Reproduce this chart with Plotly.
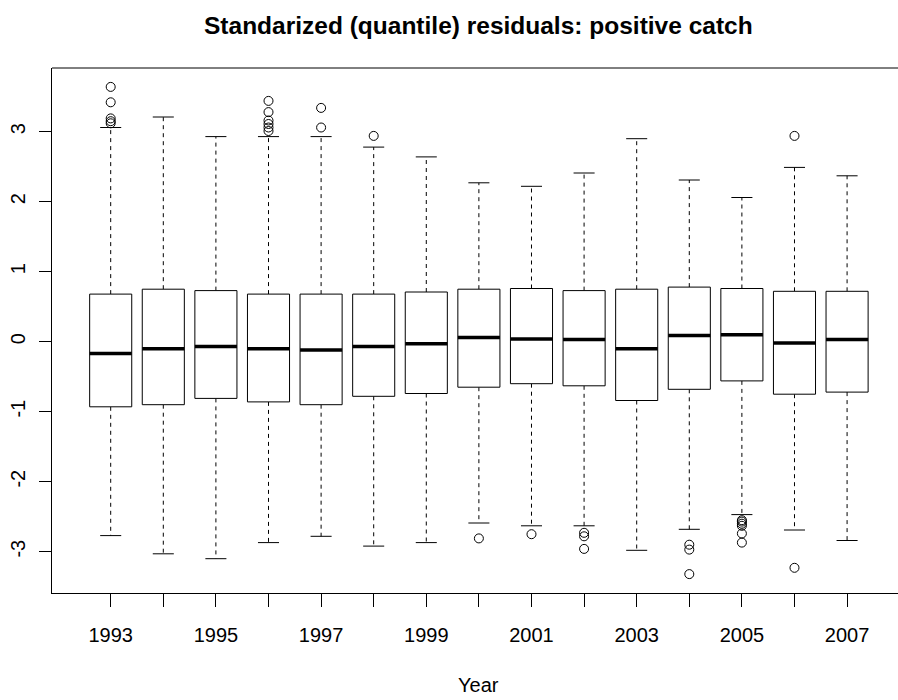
import plotly.graph_objects as go

# ---------------- data ----------------
years = list(range(1993, 2008))
q1 = [-0.93, -0.90, -0.81, -0.86, -0.90, -0.78, -0.74, -0.65, -0.60, -0.63, -0.84, -0.68, -0.56, -0.75, -0.72]
medians = [-0.17, -0.10, -0.07, -0.10, -0.12, -0.07, -0.03, 0.06, 0.04, 0.03, -0.10, 0.09, 0.10, -0.02, 0.03]
q3 = [0.68, 0.75, 0.73, 0.68, 0.68, 0.68, 0.71, 0.75, 0.76, 0.73, 0.75, 0.78, 0.76, 0.72, 0.72]
upper_whisker = [3.06, 3.21, 2.93, 2.93, 2.93, 2.78, 2.64, 2.27, 2.22, 2.41, 2.90, 2.31, 2.06, 2.49, 2.37]
lower_whisker = [-2.77, -3.03, -3.10, -2.87, -2.78, -2.92, -2.87, -2.59, -2.63, -2.63, -2.98, -2.68, -2.47, -2.69, -2.84]

outlier_years = [1993, 1993, 1993, 1993, 1993,
                 1996, 1996, 1996, 1996, 1996, 1996,
                 1997, 1997, 1998, 2006,
                 2000, 2001, 2002, 2002, 2002,
                 2004, 2004, 2004,
                 2005, 2005, 2005, 2005, 2005, 2005,
                 2006]
outlier_values = [3.64, 3.42, 3.19, 3.15, 3.12,
                  3.44, 3.28, 3.16, 3.11, 3.06, 3.01,
                  3.34, 3.06, 2.94, 2.94,
                  -2.81, -2.75, -2.73, -2.78, -2.96,
                  -2.90, -2.97, -3.32,
                  -2.55, -2.57, -2.60, -2.63, -2.74, -2.87,
                  -3.23]

x_tick_labels = [str(y) if (y - 1993) % 2 == 0 else "" for y in years]
y_tick_values = [-3, -2, -1, 0, 1, 2, 3]
y_tick_labels = ["-3", "-2", "-1", "0", "1", "2", "3"]

title_text = "Standarized (quantile) residuals: positive catch"
x_title = "Year"

# ---------------- styling ----------------
FONT = "Liberation Sans, Arial, sans-serif"
BOX_HALF = 0.4
CAP_HALF = 0.2

def seg(xs, ys):
    out_x, out_y = [], []
    for a, b in zip(xs, ys):
        out_x += list(a) + [None]
        out_y += list(b) + [None]
    return out_x, out_y

fig = go.Figure()

# whiskers (dashed)
wx, wy = seg([(y, y) for y in years] * 2,
             [(a, b) for a, b in zip(q3, upper_whisker)] + [(a, b) for a, b in zip(q1, lower_whisker)])
fig.add_trace(go.Scatter(x=wx, y=wy, mode="lines", line=dict(color="black", width=1, dash="4px,4px"),
                         hoverinfo="skip", showlegend=False))

# caps
cx, cy = seg([(y - CAP_HALF, y + CAP_HALF) for y in years] * 2,
             [(v, v) for v in upper_whisker] + [(v, v) for v in lower_whisker])
fig.add_trace(go.Scatter(x=cx, y=cy, mode="lines", line=dict(color="black", width=1),
                         hoverinfo="skip", showlegend=False))

# boxes
bx, by = seg([(y - BOX_HALF, y + BOX_HALF, y + BOX_HALF, y - BOX_HALF, y - BOX_HALF) for y in years],
             [(a, a, b, b, a) for a, b in zip(q1, q3)])
fig.add_trace(go.Scatter(x=bx, y=by, mode="lines", fill="toself", fillcolor="white",
                         line=dict(color="black", width=1), hoverinfo="skip", showlegend=False))

# medians
mx, my = seg([(y - BOX_HALF, y + BOX_HALF) for y in years], [(m, m) for m in medians])
fig.add_trace(go.Scatter(x=mx, y=my, mode="lines", line=dict(color="black", width=3.5),
                         hoverinfo="skip", showlegend=False))

# outliers
fig.add_trace(go.Scatter(x=outlier_years, y=outlier_values, mode="markers",
                         marker=dict(symbol="circle-open", size=9, color="black", line=dict(width=1)),
                         hoverinfo="skip", showlegend=False))

fig.update_layout(
    width=898, height=700,
    margin=dict(l=52, r=0, t=68, b=107),
    paper_bgcolor="white", plot_bgcolor="white",
    font=dict(family=FONT, size=20, color="black"),
    showlegend=False,
    xaxis=dict(range=[1991.884, 2007.968], tickvals=years, ticktext=x_tick_labels,
               showgrid=False, zeroline=False, showline=True, linecolor="black", linewidth=1,
               mirror=False, ticks="outside", ticklen=13, tickcolor="black", tickwidth=1,
               ticklabelstandoff=11, tickfont=dict(size=20)),
    yaxis=dict(range=[-3.590, 3.910], tickvals=y_tick_values, ticktext=y_tick_labels,
               showgrid=False, zeroline=False, showline=True, linecolor="black", linewidth=1,
               mirror=False, ticks="outside", ticklen=12, tickcolor="black", tickwidth=1,
               ticklabelstandoff=6, tickangle=-90, tickfont=dict(size=20)),
    shapes=[
        dict(type="rect", xref="paper", yref="paper", x0=0.9965, x1=1.02, y0=0.003, y1=0.997,
             fillcolor="white", line=dict(width=0), layer="above"),
        dict(type="line", xref="paper", yref="paper", x0=0, x1=1, y0=1, y1=1,
             line=dict(color="black", width=1), layer="above"),
    ],
    annotations=[
        dict(text="<b>" + title_text + "</b>", xref="paper", yref="paper", x=0.5044, y=1.0819,
             xanchor="center", yanchor="middle", showarrow=False, font=dict(size=24.5, family=FONT)),
        dict(text=x_title, xref="paper", yref="paper", x=0.5044, y=-0.1752,
             xanchor="center", yanchor="middle", showarrow=False, font=dict(size=20, family=FONT)),
    ],
)

fig.write_html(
    "out.html",
    config={"displayModeBar": False},
    post_script="document.body.style.margin='0';document.body.style.overflow='hidden';",
)
